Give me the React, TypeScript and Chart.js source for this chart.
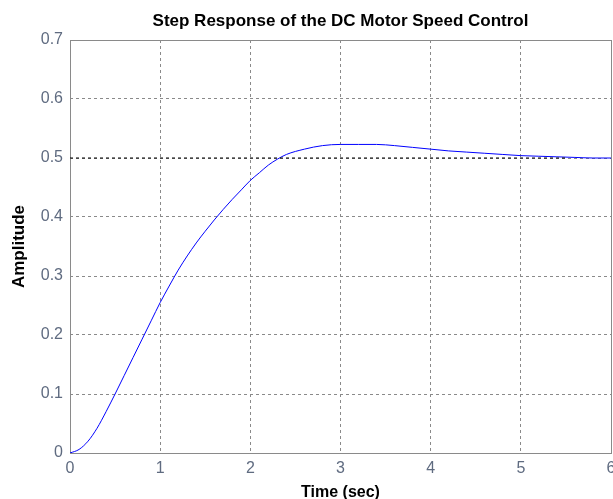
import React, { useEffect, useRef } from "react";
import { Chart, registerables } from "chart.js";

Chart.register(...registerables);

const chartTitle = "Step Response of the DC Motor Speed Control";
const xAxisTitle = "Time (sec)";
const yAxisTitle = "Amplitude";

const timeSec = [
  0, 0.1, 0.2, 0.3, 0.4, 0.5, 0.6, 0.7, 0.8, 0.9, 1.0, 1.1, 1.2, 1.3, 1.4, 1.5,
  1.6, 1.7, 1.8, 1.9, 2.0, 2.1, 2.2, 2.3, 2.4, 2.6, 2.8, 3.0, 3.2, 3.4, 3.6, 3.8,
  4.0, 4.2, 4.4, 4.6, 4.8, 5.0, 5.2, 5.4, 5.6, 5.8, 6.0,
];
const amplitude = [
  0, 0.006, 0.02, 0.042, 0.07, 0.1, 0.131, 0.162, 0.193, 0.224, 0.255, 0.283,
  0.31, 0.334, 0.356, 0.376, 0.395, 0.413, 0.43, 0.446, 0.462, 0.475, 0.488,
  0.498, 0.506, 0.515, 0.521, 0.523, 0.523, 0.523, 0.521, 0.518, 0.515, 0.512,
  0.51, 0.508, 0.506, 0.504, 0.503, 0.502, 0.501, 0.5, 0.5,
];

const steadyTime = [0, 5.5];
const steadyValue = [0.5, 0.5];

const xTickValues = [0, 1, 2, 3, 4, 5, 6];
const yTickValues = [0, 0.1, 0.2, 0.3, 0.4, 0.5, 0.6, 0.7];
const yTickLabels = ["0", "0.1", "0.2", "0.3", "0.4", "0.5", "0.6", "0.7"];

const FONT = "'Liberation Sans', Arial, sans-serif";

const framePlugin = {
  id: "frame",
  beforeDatasetsDraw(chart: any) {
    const { ctx, chartArea } = chart;
    ctx.save();
    ctx.strokeStyle = "#8a8a8a";
    ctx.lineWidth = 1;
    ctx.setLineDash([]);
    ctx.strokeRect(
      Math.round(chartArea.left) + 0.5,
      Math.round(chartArea.top) + 0.5,
      Math.round(chartArea.right - chartArea.left),
      Math.round(chartArea.bottom - chartArea.top)
    );
    ctx.restore();
  },
};

export default function App() {
  const ref = useRef<HTMLCanvasElement | null>(null);

  useEffect(() => {
    if (!ref.current) return;
    const chart = new Chart(ref.current, {
      type: "line",
      data: {
        datasets: [
          {
            label: "steady",
            data: steadyTime.map((t, i) => ({ x: t, y: steadyValue[i] })),
            borderColor: "#000000",
            borderWidth: 1,
            borderDash: [3, 3],
            pointRadius: 0,
            fill: false,
          },
          {
            label: "response",
            data: timeSec.map((t, i) => ({ x: t, y: amplitude[i] })),
            borderColor: "#0000ff",
            borderWidth: 1,
            pointRadius: 0,
            fill: false,
            cubicInterpolationMode: "monotone",
          },
        ],
      },
      options: {
        responsive: false,
        animation: false,
        layout: { padding: { left: 0, right: 29, top: 0, bottom: 0 } },
        plugins: {
          legend: { display: false },
          tooltip: { enabled: false },
          title: {
            display: true,
            fullSize: false,
            text: chartTitle,
            color: "#000000",
            font: { family: FONT, size: 17, weight: "bold" },
            padding: { top: 11, bottom: 8.6 },
          },
        },
        scales: {
          x: {
            type: "linear",
            min: 0,
            max: 6,
            afterBuildTicks: (scale: any) => {
              scale.ticks = xTickValues.map((v) => ({ value: v }));
            },
            afterFit: (scale: any) => {
              scale.height = 46;
            },
            ticks: {
              color: "#5f6b80",
              font: { family: FONT, size: 16 },
              padding: 6,
              maxRotation: 0,
              callback: (v: any) => String(v),
            },
            grid: {
              color: "#8a8a8a",
              lineWidth: 1,
              drawTicks: false,
            },
            border: { display: false, dash: [3, 3] },
            title: {
              display: true,
              text: xAxisTitle,
              color: "#000000",
              font: { family: FONT, size: 16, weight: "bold" },
              padding: { top: 0, bottom: -3 },
            },
          },
          y: {
            type: "linear",
            min: 0,
            max: 0.7,
            afterBuildTicks: (scale: any) => {
              scale.ticks = yTickValues.map((v) => ({ value: v }));
            },
            afterFit: (scale: any) => {
              scale.width = 70;
            },
            ticks: {
              color: "#5f6b80",
              font: { family: FONT, size: 16 },
              padding: 7,
              callback: (_v: any, i: number) => yTickLabels[i],
            },
            grid: {
              color: "#8a8a8a",
              lineWidth: 1,
              drawTicks: false,
            },
            border: { display: false, dash: [3, 3] },
            title: {
              display: true,
              text: yAxisTitle,
              color: "#000000",
              font: { family: FONT, size: 17, weight: "bold" },
              padding: { top: 9, bottom: 0 },
            },
          },
        },
      },
      plugins: [framePlugin],
    } as any);
    return () => chart.destroy();
  }, []);

  return (
    <div style={{ position: "fixed", left: 0, top: 0, width: 640, height: 499, background: "#ffffff" }}>
      <canvas ref={ref} width={640} height={499} style={{ display: "block" }} />
    </div>
  );
}
